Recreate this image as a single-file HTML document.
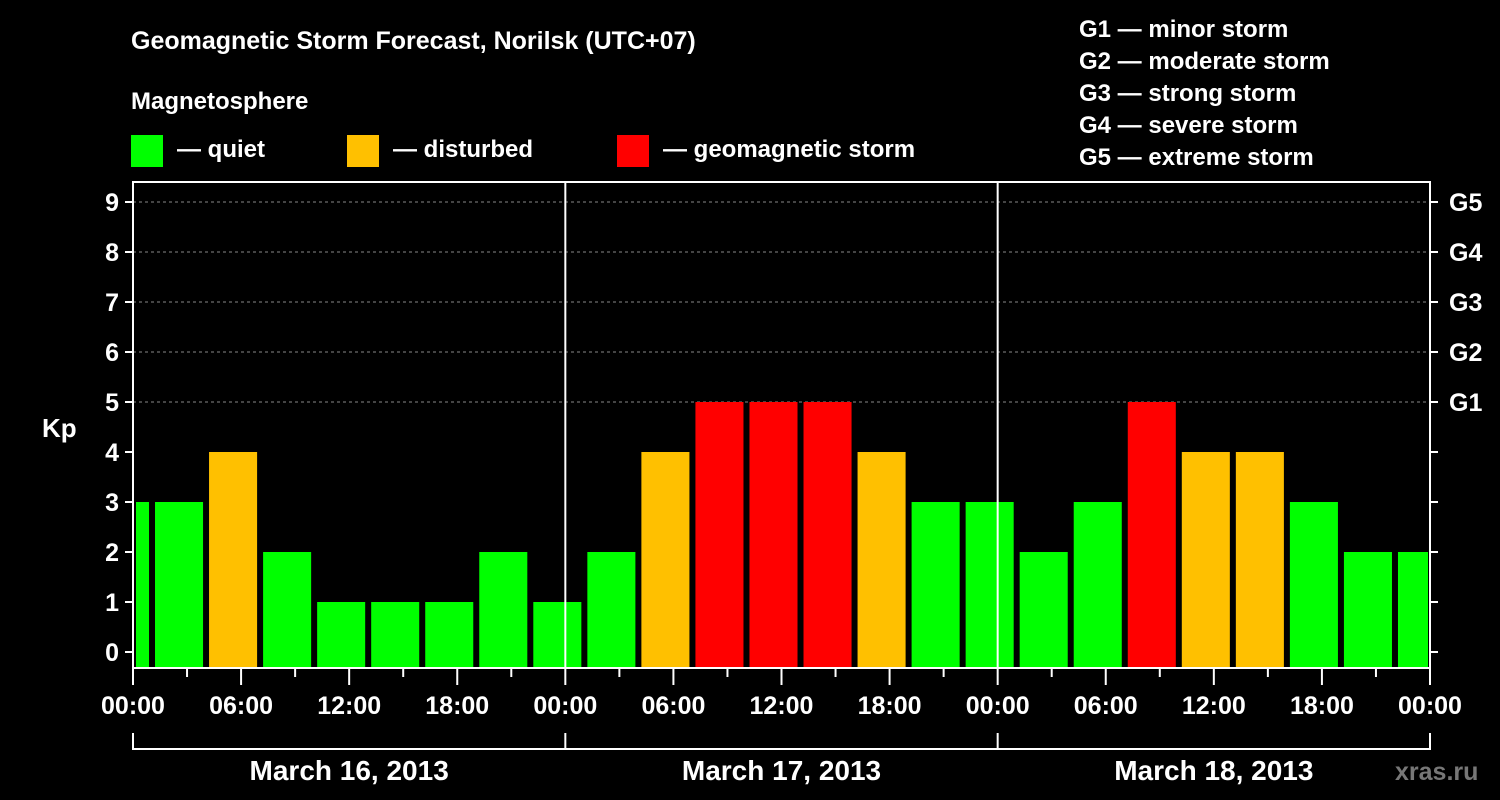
<!DOCTYPE html>
<html><head><meta charset="utf-8">
<style>
html,body{margin:0;padding:0;background:#000;}
svg{display:block;}
text{font-family:"Liberation Sans",Arial,sans-serif;font-weight:bold;fill:#fff;}
</style></head>
<body>
<svg id="chart" width="1500" height="800" viewBox="0 0 1500 800" xmlns="http://www.w3.org/2000/svg">
<rect width="1500" height="800" fill="#000"/>
<text x="131" y="49" font-size="25">Geomagnetic Storm Forecast, Norilsk (UTC+07)</text>
<text x="131" y="109" font-size="24">Magnetosphere</text>
<g>
<rect x="131" y="135" width="32" height="32" fill="#00ff00"/>
<text x="177" y="157" font-size="24">— quiet</text></g>
<g>
<rect x="347" y="135" width="32" height="32" fill="#ffc000"/>
<text x="393" y="157" font-size="24">— disturbed</text></g>
<g>
<rect x="617" y="135" width="32" height="32" fill="#ff0000"/>
<text x="663" y="157" font-size="24">— geomagnetic storm</text></g>
<g font-size="24">
<text x="1079" y="37">G1 — minor storm</text>
<text x="1079" y="69">G2 — moderate storm</text>
<text x="1079" y="101">G3 — strong storm</text>
<text x="1079" y="133">G4 — severe storm</text>
<text x="1079" y="165">G5 — extreme storm</text>
</g>
<text x="42" y="437" font-size="26">Kp</text>
<text x="1395" y="780" font-size="25" style="fill:#777">xras.ru</text>
<g id="plot"></g>
</svg>
<script>
const kpValues = [3,3,4,2,1,1,1,2,1,2,4,5,5,5,4,3,3,2,3,5,4,4,3,2,2];
const barColors = ["#00ff00","#00ff00","#00ff00","#00ff00","#ffc000","#ff0000"];
const yTicks = [0,1,2,3,4,5,6,7,8,9];
const gLabels = ["G1","G2","G3","G4","G5"];
const gLevels = [5,6,7,8,9];
const xTickLabels = ["00:00","06:00","12:00","18:00","00:00","06:00","12:00","18:00","00:00","06:00","12:00","18:00","00:00"];
const dayLabels = ["March 16, 2013","March 17, 2013","March 18, 2013"];
const firstSlotHour = -2; // bars aligned to UTC 3h slots

const NS="http://www.w3.org/2000/svg";
const L=133,R=1430,T=182,B=668;
const x = h => L + h*(R-L)/72;
const y = v => 652 - v*50;
const g=document.getElementById('plot');
function mk(tag,attrs,parent){const e=document.createElementNS(NS,tag);for(const k in attrs)e.setAttribute(k,attrs[k]);(parent||g).appendChild(e);return e;}

// grid lines
gLevels.forEach(v=>{
  const ln=mk('line',{x1:L,x2:R,y1:y(v),y2:y(v),stroke:'#888','stroke-width':1,'stroke-dasharray':'3,3'});
  
  
});
// bars
kpValues.forEach((v,i)=>{
  const h0=firstSlotHour+i*3;
  let x0=x(h0)+4, x1=x(h0+3)-2;
  x0=Math.max(x0,L+3); x1=Math.min(x1,R-2);
  const c=barColors[Math.min(v,5)];
  const r=mk('rect',{x:x0,y:y(v),width:x1-x0,height:B-y(v),fill:c});
  
  
});
// day separators
[24,48].forEach(h=>{
  const ln=mk('line',{x1:x(h),x2:x(h),y1:T,y2:B,stroke:'#fff','stroke-width':2});
  
  
});
// frame
const fr=mk('rect',{x:L,y:T,width:R-L,height:B-T,fill:'none',stroke:'#fff','stroke-width':2});


// y ticks left and right
yTicks.forEach(v=>{
  mk('line',{x1:L-8,x2:L,y1:y(v),y2:y(v),stroke:'#fff','stroke-width':2});
  mk('line',{x1:R,x2:R+8,y1:y(v),y2:y(v),stroke:'#fff','stroke-width':2});
  const t=mk('text',{x:L-14,y:y(v)+9,'font-size':25,'text-anchor':'end'});
  t.textContent=v;
  
  
});
gLabels.forEach((s,i)=>{
  const t=mk('text',{x:R+19,y:y(gLevels[i])+9,'font-size':25});
  t.textContent=s;
  
  
});
// x ticks
for(let h=0;h<=72;h+=3){
  const major=h%6===0;
  mk('line',{x1:x(h),x2:x(h),y1:B,y2:B+(major?17:9),stroke:'#fff','stroke-width':2});
}
xTickLabels.forEach((s,i)=>{
  const t=mk('text',{x:x(i*6),y:714,'font-size':25,'text-anchor':'middle'});
  t.textContent=s;
  
  
});
// day brackets
mk('line',{x1:L,x2:R,y1:749,y2:749,stroke:'#fff','stroke-width':2});
[0,24,48,72].forEach(h=>mk('line',{x1:x(h),x2:x(h),y1:733,y2:750,stroke:'#fff','stroke-width':2}));
dayLabels.forEach((s,i)=>{
  const t=mk('text',{x:x(i*24+12),y:780,'font-size':28,'text-anchor':'middle'});
  t.textContent=s;
  
  
});
</script>
</body></html>
